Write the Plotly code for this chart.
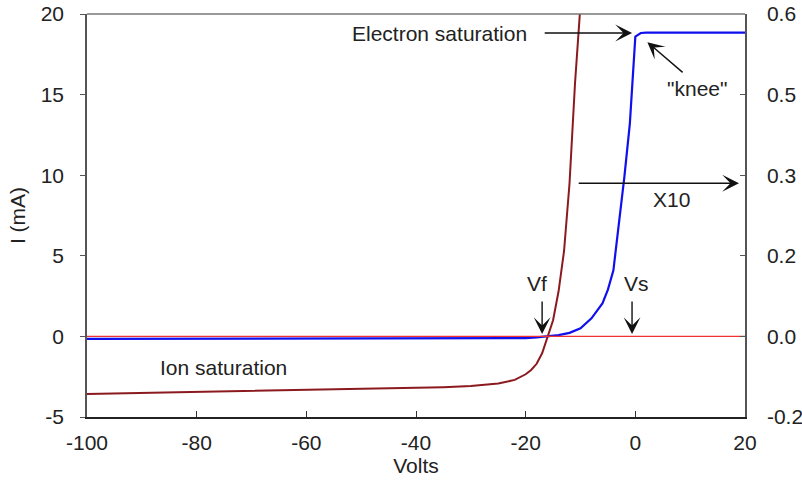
import plotly.graph_objects as go

# Blue probe curve (left-axis units)
blue_x = [-100, -90, -80, -70, -60, -50, -40, -30, -25, -20, -18, -16, -14, -12, -10,
          -8, -6, -5, -4, -3, -2, -1, 0, 1, 2, 5, 10, 15, 20]
blue_y = [-0.15, -0.15, -0.15, -0.15, -0.15, -0.15, -0.15, -0.15, -0.14, -0.11, -0.06, 0.0,
          0.08, 0.22, 0.5, 1.12, 2.05, 2.9, 4.1, 7.0, 9.9, 13.2, 18.6, 18.82, 18.85,
          18.85, 18.85, 18.85, 18.85]

# Dark red (x10) curve
red_x = [-100, -90, -80, -70, -60, -50, -40, -35, -30, -25, -22, -20, -19, -18, -17,
         -16, -15, -14, -13, -12, -11, -10]
red_y = [-3.58, -3.52, -3.45, -3.4, -3.33, -3.28, -3.22, -3.15, -3.08, -2.92, -2.7,
         -2.35, -2.08, -1.7, -1.05, -0.05, 1.0, 2.8, 5.3, 9.5, 15.7, 20.6]

zero_x = [-100, 20]
zero_y = [0, 0]

x_ticks = [-100, -80, -60, -40, -20, 0, 20]
x_ticktext = ["-100", "-80", "-60", "-40", "-20", "0", "20"]
y_ticks = [-5, 0, 5, 10, 15, 20]
y_ticktext = ["-5", "0", "5", "10", "15", "20"]
y2_tickvals = [-0.15, 0, 0.15, 0.3, 0.45, 0.6]
y2_ticktext = ["-0.2", "0.0", "0.2", "0.3", "0.5", "0.6"]

FONT = "Liberation Sans, Arial, sans-serif"
FS = 21
AX = "#555555"

fig = go.Figure()
fig.add_trace(go.Scatter(x=zero_x, y=zero_y, mode="lines",
                         line=dict(color="#ee3333", width=1.2), yaxis="y2",
                         hoverinfo="skip"))
fig.add_trace(go.Scatter(x=blue_x, y=blue_y, mode="lines",
                         line=dict(color="#1010ee", width=2.2)))
fig.add_trace(go.Scatter(x=red_x, y=red_y, mode="lines",
                         line=dict(color="#8b1a1f", width=2)))

fig.update_layout(
    width=802, height=489,
    margin=dict(l=87, r=57, t=14, b=72, autoexpand=False),
    paper_bgcolor="white", plot_bgcolor="white",
    showlegend=False,
    font=dict(family=FONT, size=FS, color="#222222"),
    xaxis=dict(range=[-100, 20], tickvals=x_ticks, ticktext=x_ticktext,
               ticks="inside", ticklen=6, automargin=False,
               tickcolor="#333", showline=True, linecolor="#222", linewidth=1.5,
               mirror=False, showgrid=False, zeroline=False,
               title=dict(text="Volts", standoff=0, font=dict(size=FS)),
               ticklabelstandoff=6),
    yaxis=dict(range=[-5, 20], tickvals=y_ticks, ticktext=y_ticktext,
               ticks="outside", ticklen=5, automargin=False,
               tickcolor=AX, showline=True, linecolor=AX, linewidth=1.5,
               showgrid=False, zeroline=False,
               title=dict(text="I (mA)", standoff=9, font=dict(size=FS)),
               ticklabelstandoff=12),
    yaxis2=dict(range=[-0.15, 0.6], overlaying="y", side="right", anchor="x",
                tickvals=y2_tickvals, ticktext=y2_ticktext, ticks="inside",
                ticklen=5, tickcolor=AX, showline=True, linecolor=AX,
                automargin=False,
                linewidth=1.5, showgrid=False, zeroline=False,
                ticklabelstandoff=16),
)

# top frame line
fig.add_shape(type="line", xref="paper", yref="paper", x0=0, x1=1, y0=1, y1=1,
              line=dict(color="#777777", width=1.5))

def arrow(x, y, ax, ay):
    fig.add_annotation(x=x, y=y, ax=ax, ay=ay, xref="x", yref="y", axref="x",
                       ayref="y", text="", showarrow=True, arrowhead=3,
                       arrowsize=2.0, arrowwidth=1.4, arrowcolor="#111111",
                       standoff=0, startstandoff=0)

def label(x, y, t):
    fig.add_annotation(x=x, y=y, xref="x", yref="y", text=t, showarrow=False,
                       font=dict(size=FS, color="#222222", family=FONT))

arrow(-0.6, 18.82, -16.8, 18.82)
arrow(2.2, 18.25, 8.9, 16.3)
arrow(18.9, 9.5, -10.6, 9.5)
arrow(-17.0, 0.15, -17.0, 2.26)
arrow(-0.6, 0.15, -0.6, 2.26)

label(-35.7, 18.82, "Electron saturation")
label(11.25, 15.4, '"knee"')
label(6.6, 8.5, "X10")
label(-17.9, 3.3, "Vf")
label(0.3, 3.3, "Vs")
label(-75.1, -1.9, "Ion saturation")

fig.write_html("out.html")
